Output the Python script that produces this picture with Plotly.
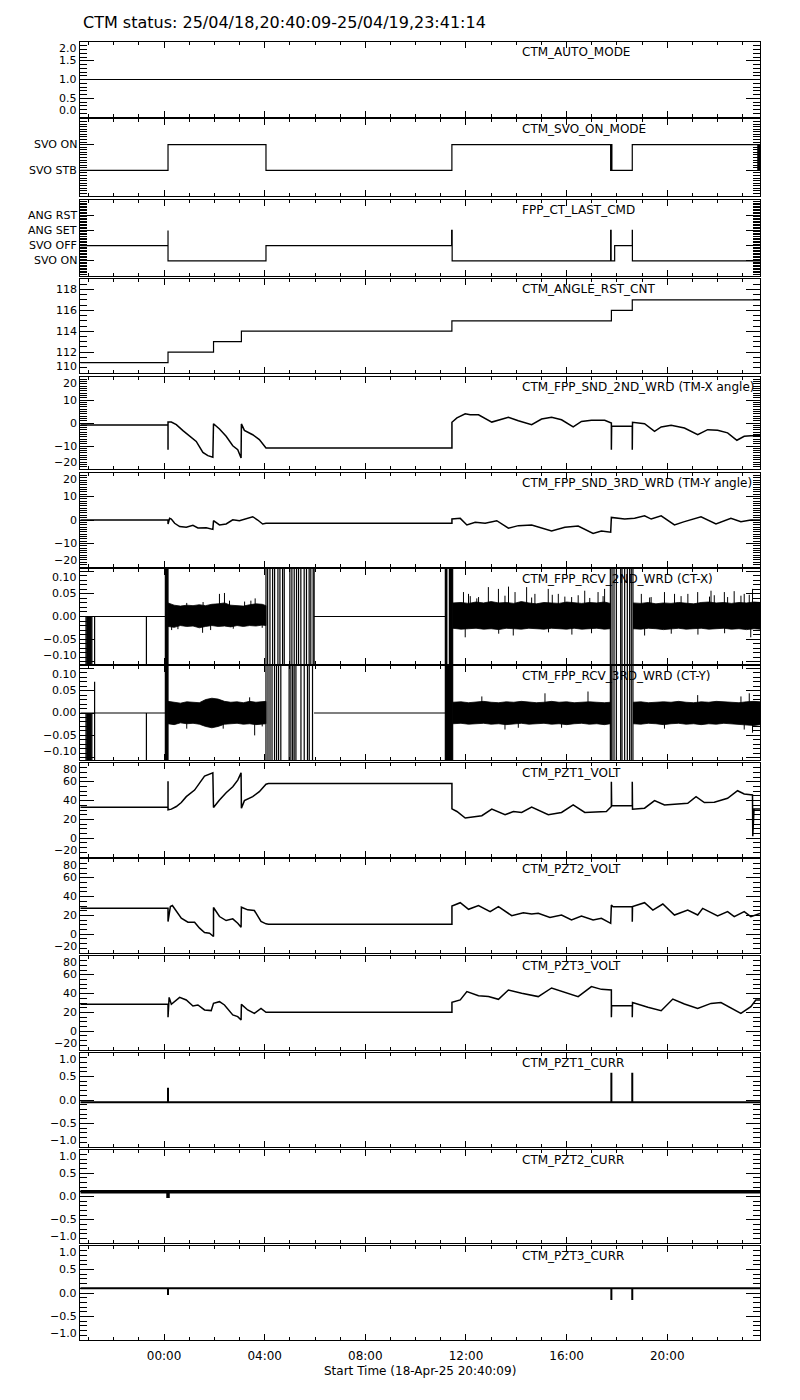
import plotly.graph_objects as go

# ---------------- time axis (hours relative to 2025-04-19 00:00) ----------------
T_START = -3.33083   # 25/04/18 20:40:09
T_END = 23.68722     # 25/04/19 23:41:14
x_tickvals = [0, 4, 8, 12, 16, 20]
x_ticktext = ["00:00", "04:00", "08:00", "12:00", "16:00", "20:00"]

panel_labels = ["CTM_AUTO_MODE", "CTM_SVO_ON_MODE", "FPP_CT_LAST_CMD", "CTM_ANGLE_RST_CNT",
                "CTM_FPP_SND_2ND_WRD (TM-X angle)", "CTM_FPP_SND_3RD_WRD (TM-Y angle)",
                "CTM_FPP_RCV_2ND_WRD (CT-X)", "CTM_FPP_RCV_3RD_WRD (CT-Y)",
                "CTM_PZT1_VOLT", "CTM_PZT2_VOLT", "CTM_PZT3_VOLT",
                "CTM_PZT1_CURR", "CTM_PZT2_CURR", "CTM_PZT3_CURR"]

svo_on_ticktext = ["SVO STB", "SVO ON"]
last_cmd_ticktext = ["SVO ON", "SVO OFF", "ANG SET", "ANG RST"]

# ---------------- data ----------------
auto_t = [T_START, T_END]
auto_v = [1, 1]

svo_t = [T_START, 0.156, 4.05, 11.44, 17.75, 17.78, 17.80, 18.61, 23.60, 23.62, 23.64, T_END]
svo_v = [0, 1, 0, 1, 0, 1, 0, 1, 0, 1, 0, 1]

cmd_t = [T_START, 0.156, 0.156, 4.05, 11.43, 11.45, 17.75, 17.77, 17.91, 18.61, 18.615, T_END]
cmd_v = [1, 2, 0, 1, 2, 0, 2, 0, 1, 2, 0, 0]

rst_t = [T_START, 0.156, 1.965, 3.073, 11.44, 17.78, 18.61, T_END]
rst_v = [111, 112, 113, 114, 115, 116, 117, 117]

tmx_t = [T_START, 0.156, 0.156, 0.156, 0.288, 0.486, 0.750, 1.014, 1.278, 1.542, 1.740, 1.938,
         1.964, 2.202, 2.466, 2.730, 2.928, 3.060, 3.073, 3.192, 3.522, 3.786, 4.050, 11.442,
         11.442, 11.640, 11.970, 12.168, 12.498, 13.026, 13.290, 13.686, 14.082, 14.610, 15.006,
         15.403, 15.799, 16.261, 16.591, 16.987, 17.515, 17.779, 17.779, 17.790, 18.610, 18.610,
         18.620, 19.099, 19.495, 19.759, 20.155, 20.683, 21.211, 21.607, 22.003, 22.399, 22.769,
         23.059, 23.323, T_END]
tmx_v = [-0.9, -0.9, -11.6, 0.4, 0.4, -0.7, -3.3, -5.5, -8.0, -12.8, -14.2, -14.9,
         -0.3, -2.6, -5.8, -9.9, -11.6, -15.2, -0.4, -3.2, -5.1, -7.2, -10.9, -10.9,
         0.3, 2.2, 4.0, 3.6, 3.6, 0.4, 1.2, 2.5, 1.0, -0.7, 1.7,
         2.5, 1.4, -1.7, 0.7, 1.2, 1.2, 0.0, -11.6, -1.4, -1.4, -11.6,
         0.3, -0.3, -3.6, -1.7, -1.0, -2.2, -5.1, -2.9, -3.2, -4.3, -7.5,
         -5.8, -5.5, -5.5]

tmy_t = [T_START, 0.156, 0.156, 0.220, 0.288, 0.420, 0.618, 0.882, 1.146, 1.344, 1.674, 1.938,
         1.964, 2.202, 2.466, 2.730, 2.994, 3.258, 3.522, 3.720, 3.918, 4.050, 11.442,
         11.442, 11.772, 12.036, 12.366, 12.762, 13.224, 13.686, 14.082, 14.610, 15.403, 15.931,
         16.459, 17.053, 17.383, 17.752, 17.779, 18.307, 18.703, 19.099, 19.363, 19.759, 20.287,
         20.683, 21.343, 21.937, 22.531, 22.927, 23.323, T_END]
tmy_v = [0.0, 0.0, -1.7, 0.7, 0.4, -1.4, -2.8, -3.1, -2.3, -3.4, -3.3, -4.0,
         -0.3, -2.1, -1.7, 0.1, -0.3, 0.7, 1.4, 0.0, -1.7, -1.4, -1.4,
         0.4, 0.7, -2.1, -1.0, -1.4, -0.3, -3.5, -2.4, -2.1, -4.7, -3.1,
         -2.6, -5.7, -4.7, -5.2, 1.1, 0.4, 0.7, 1.8, 0.4, 1.8, -2.1,
         -0.7, 1.4, -1.7, 0.7, -0.7, 0.0, 0.0]

# CT-X / CT-Y : quiet segments at zero, noise-band envelopes, spikes, full-swing lines
rcv_quiet = [(T_START, 0.05), (5.96, 11.18)]

ctx_band_t = [[0.156, 0.40, 0.65, 0.90, 1.15, 1.40, 1.65, 1.90, 2.15, 2.40, 2.65, 2.90, 3.15, 3.40, 3.65, 3.90, 4.05],
              [11.47, 11.80, 12.10, 12.40, 12.70, 13.00, 13.30, 13.60, 13.90, 14.20, 14.50, 14.80, 15.10,
               15.40, 15.70, 16.00, 16.30, 16.60, 16.90, 17.20, 17.50, 17.74],
              [18.64, 18.95, 19.25, 19.55, 19.85, 20.15, 20.45, 20.75, 21.05, 21.35, 21.65, 21.95, 22.25,
               22.55, 22.85, 23.15, 23.45, T_END]]
ctx_band_hi = [[0.030, 0.025, 0.023, 0.025, 0.024, 0.026, 0.024, 0.027, 0.028, 0.030, 0.025, 0.024, 0.023, 0.026, 0.028, 0.027, 0.024],
               [0.030, 0.031, 0.029, 0.032, 0.030, 0.033, 0.030, 0.031, 0.029, 0.033, 0.030, 0.028, 0.031,
                0.030, 0.029, 0.032, 0.030, 0.029, 0.031, 0.030, 0.032, 0.029],
               [0.030, 0.029, 0.031, 0.028, 0.030, 0.029, 0.031, 0.030, 0.028, 0.031, 0.032, 0.030, 0.031,
                0.029, 0.031, 0.030, 0.032, 0.031]]
ctx_band_lo = [[-0.022, -0.024, -0.020, -0.022, -0.021, -0.025, -0.022, -0.020, -0.022, -0.021, -0.023, -0.020, -0.022, -0.020, -0.021, -0.019, -0.020],
               [-0.026, -0.028, -0.027, -0.026, -0.028, -0.027, -0.029, -0.026, -0.027, -0.028, -0.026, -0.027, -0.028,
                -0.026, -0.027, -0.028, -0.026, -0.028, -0.027, -0.026, -0.028, -0.027],
               [-0.027, -0.028, -0.026, -0.027, -0.029, -0.027, -0.026, -0.028, -0.027, -0.026, -0.028, -0.027, -0.026,
                -0.028, -0.027, -0.029, -0.027, -0.028]]
ctx_spike_t = [0.30, 0.55, 0.90, 1.53, 1.55, 1.85, 2.20, 2.40, 2.60, 2.75, 3.20, 3.45, 3.62, 3.90,
               11.90, 12.10, 12.50, 12.89, 13.29, 13.69, 13.95, 14.41, 14.74, 15.27, 15.67, 16.20, 16.72, 17.25, 17.51,
               12.17, 12.43, 13.55, 14.61, 15.43, 15.93, 16.46, 16.92, 17.45,
               11.97, 13.30, 13.88, 15.28, 16.21, 16.99,
               18.97, 19.36, 19.89, 20.29, 20.82, 21.21, 21.74, 22.27, 22.66, 23.06, 23.39,
               19.30, 20.55, 21.68, 21.87, 22.40, 22.93, 23.26,
               19.10, 20.16, 21.22, 22.28, 23.32]
ctx_spike_v = [-0.030, -0.028, 0.030, -0.036, 0.032, -0.030, 0.050, 0.052, 0.035, -0.027, 0.033, 0.035, 0.040, -0.025,
               0.054, 0.050, 0.043, 0.065, 0.061, 0.066, 0.054, 0.065, 0.050, 0.061, 0.050, 0.043, 0.057, 0.054, 0.061,
               0.045, 0.040, 0.046, 0.042, 0.048, 0.044, 0.047, 0.041, 0.045,
               -0.046, -0.038, -0.042, -0.035, -0.040, -0.037,
               0.050, 0.043, 0.054, 0.050, 0.050, 0.054, 0.057, 0.054, 0.056, 0.050, 0.061,
               0.042, 0.045, 0.044, 0.047, 0.043, 0.046, 0.048,
               -0.042, -0.038, -0.040, -0.037, -0.046]
ctx_line_t = [-3.105, -3.07, -3.04, -3.00, -2.97, -2.93, -2.90, -2.87, -2.762, -0.703,
              0.05, 0.07, 0.09, 0.11, 0.13, 0.156,
              4.050, 4.116, 4.208, 4.314, 4.393, 4.525, 4.604, 4.710, 4.776, 5.000, 5.080, 5.172, 5.264,
              5.344, 5.436, 5.568, 5.660, 5.766, 5.832, 5.925, 5.964,
              11.18, 11.20, 11.22, 11.24, 11.34, 11.36, 11.38, 11.40, 11.42, 11.44, 11.47,
              17.739, 17.805, 17.884, 17.977, 18.149, 18.202, 18.307, 18.413, 18.505, 18.571, 18.637]
ctx_line_lo = [-0.12] * 10 + [-0.12] * 6 + [-0.12] * 21 + [-0.12] * 11 + [-0.12] * 11
ctx_line_hi = [0.0] * 10 + [0.12] * 6 + [0.12] * 21 + [0.12] * 11 + [0.12] * 11

cty_band_t = ctx_band_t
cty_band_hi = [[0.026, 0.024, 0.022, 0.025, 0.024, 0.023, 0.030, 0.033, 0.031, 0.026, 0.024, 0.025, 0.023, 0.026, 0.024, 0.025, 0.026],
               [0.024, 0.025, 0.023, 0.024, 0.026, 0.024, 0.023, 0.025, 0.024, 0.026, 0.025, 0.023, 0.024,
                0.026, 0.024, 0.025, 0.023, 0.024, 0.025, 0.024, 0.023, 0.024],
               [0.024, 0.025, 0.023, 0.024, 0.025, 0.024, 0.026, 0.024, 0.023, 0.025, 0.024, 0.026, 0.025,
                0.024, 0.023, 0.025, 0.026, 0.025]]
cty_band_lo = [[-0.024, -0.026, -0.022, -0.024, -0.023, -0.025, -0.030, -0.033, -0.030, -0.025, -0.024, -0.023, -0.025, -0.024, -0.026, -0.025, -0.024],
               [-0.024, -0.023, -0.025, -0.024, -0.023, -0.025, -0.024, -0.026, -0.024, -0.023, -0.025, -0.024, -0.023,
                -0.025, -0.024, -0.026, -0.024, -0.023, -0.025, -0.024, -0.026, -0.024],
               [-0.024, -0.025, -0.023, -0.024, -0.026, -0.024, -0.023, -0.025, -0.024, -0.026, -0.024, -0.025, -0.023,
                -0.024, -0.026, -0.027, -0.028, -0.026]]
cty_spike_t = [0.90, 1.95, 2.35, 3.40, 3.60, 3.90,
               12.63, 15.14, 16.85, 13.55, 14.08, 15.80,
               21.21, 22.93, 23.26, 23.39, 23.06, 19.89]
cty_spike_v = [-0.035, 0.030, -0.035, 0.035, -0.050, -0.030,
               0.037, 0.044, 0.048, -0.037, -0.033, -0.033,
               0.040, 0.037, 0.044, -0.044, -0.037, -0.035]
cty_line_t = [-3.105, -3.07, -3.04, -3.00, -2.97, -2.93, -2.90, -2.87, -2.762, -0.703,
              0.05, 0.07, 0.09, 0.11, 0.13, 0.156,
              4.050, 4.13, 4.21, 4.29, 4.39, 4.47, 4.55, 4.64, 4.97, 5.04, 5.11, 5.17, 5.24,
              5.44, 5.57, 5.70, 5.77, 5.90,
              11.18, 11.20, 11.22, 11.24, 11.26, 11.28, 11.30, 11.32, 11.34, 11.36, 11.38, 11.40, 11.42, 11.44, 11.47,
              17.739, 17.77, 17.805, 17.884, 17.977, 18.149, 18.202, 18.307, 18.413, 18.505, 18.571, 18.637]
cty_line_lo = [-0.12] * 10 + [-0.12] * 6 + [-0.12] * 18 + [-0.12] * 15 + [-0.12] * 12
cty_line_hi = [0.0] * 8 + [0.07, 0.0] + [0.12] * 6 + [0.12] * 18 + [0.12] * 15 + [0.12] * 12

pzt1v_t = [T_START, 0.156, 0.156, 0.156, 0.288, 0.486, 0.684, 0.882, 1.212, 1.410, 1.608, 1.938,
           1.964, 2.202, 2.466, 2.730, 2.928, 3.060, 3.073, 3.192, 3.522, 3.786, 4.050, 4.150,
           11.442, 11.442, 11.640, 11.970, 12.366, 12.630, 13.026, 13.554, 13.884, 14.214, 14.610,
           15.271, 15.799, 16.261, 16.723, 17.251, 17.581, 17.779, 17.779, 17.790, 18.610, 18.610,
           18.620, 19.099, 19.495, 19.891, 20.419, 20.815, 21.145, 21.475, 21.871, 22.399, 22.795,
           23.059, 23.389, 23.400, 23.450, T_END]
pzt1v_v = [33.0, 33.0, 60.7, 30.2, 30.9, 33.7, 37.9, 44.2, 51.2, 58.2, 66.0, 69.5,
           32.6, 40.7, 48.4, 54.7, 61.8, 69.5, 31.9, 40.0, 44.2, 49.5, 57.5, 58.2,
           58.2, 31.2, 28.4, 21.4, 22.5, 23.9, 30.9, 24.9, 28.4, 27.4, 33.0,
           24.9, 27.4, 35.4, 27.4, 28.4, 28.4, 33.7, 60.0, 34.4, 34.4, 60.0,
           30.9, 31.9, 40.0, 35.4, 36.1, 37.2, 44.2, 37.9, 38.2, 42.5, 50.5,
           47.0, 46.0, 2.0, 31.0, 31.0]

pzt2v_t = [T_START, 0.156, 0.156, 0.200, 0.250, 0.330, 0.486, 0.684, 0.948, 1.212, 1.410, 1.608,
           1.806, 1.964, 1.964, 2.202, 2.466, 2.730, 2.928, 3.060, 3.073, 3.324, 3.588, 3.852,
           4.050, 4.150, 11.442, 11.442, 11.772, 12.102, 12.498, 12.960, 13.290, 13.818, 14.280,
           14.610, 14.874, 15.337, 15.799, 16.195, 16.591, 17.053, 17.383, 17.752, 17.779, 17.845,
           18.610, 18.610, 18.620, 19.099, 19.429, 19.825, 20.287, 20.815, 21.211, 21.409, 22.003,
           22.399, 22.663, 23.059, 23.323, T_END]
pzt2v_v = [27.7, 27.7, 13.5, 24.1, 29.4, 30.5, 24.1, 17.0, 12.8, 12.8, 6.4, 1.8,
           1.1, -2.5, 28.4, 18.8, 14.5, 16.3, 11.7, 7.4, 28.7, 25.9, 25.2, 13.5,
           11.0, 10.6, 10.6, 30.0, 33.5, 26.5, 30.4, 24.0, 29.3, 19.7, 22.9,
           21.5, 22.2, 17.9, 20.4, 15.1, 19.4, 15.1, 16.9, 11.6, 31.1, 29.3,
           29.3, 13.3, 29.3, 33.5, 25.7, 32.1, 20.4, 25.7, 20.4, 27.5, 19.4,
           24.0, 18.6, 24.0, 18.6, 22.0]

pzt3v_t = [T_START, 0.156, 0.156, 0.200, 0.288, 0.618, 0.882, 1.146, 1.344, 1.608, 1.872, 1.964,
           2.202, 2.400, 2.730, 2.928, 3.060, 3.073, 3.324, 3.588, 3.852, 4.050, 11.442,
           11.442, 11.772, 12.036, 12.498, 12.894, 13.290, 13.686, 14.214, 14.874, 15.403, 15.931,
           16.459, 16.987, 17.383, 17.779, 17.779, 17.790, 18.610, 18.610, 18.620, 19.231, 19.759,
           20.221, 20.683, 21.211, 21.739, 22.135, 22.531, 22.927, 23.323, 23.521, T_END]
pzt3v_v = [28.6, 28.6, 14.8, 36.0, 28.6, 36.0, 33.2, 26.8, 27.9, 22.6, 21.9, 29.7,
           31.4, 27.9, 17.3, 15.5, 11.9, 28.6, 22.6, 19.0, 24.3, 20.1, 20.1,
           30.7, 33.3, 42.1, 37.8, 36.8, 33.9, 43.8, 40.3, 36.8, 46.0, 41.0,
           36.8, 47.4, 44.5, 43.8, 14.8, 27.2, 27.2, 14.8, 30.4, 25.4, 21.8,
           34.2, 28.9, 24.3, 29.6, 30.4, 24.3, 19.0, 26.1, 33.2, 33.2]

pzt1c_t = [T_START, 0.156, 0.156, 0.156, 17.779, 17.779, 17.779, 18.61, 18.61, 18.61, T_END]
pzt1c_v = [-0.05, -0.05, 0.26, -0.05, -0.05, 0.58, -0.05, -0.05, 0.58, -0.05, -0.05]
pzt2c_t = [T_START, 0.156, 0.156, 0.156, T_END]
pzt2c_v = [0.10, 0.10, -0.03, 0.10, 0.10]
pzt3c_t = [T_START, 0.156, 0.156, 0.156, 17.779, 17.779, 17.779, 18.61, 18.61, 18.61, T_END]
pzt3c_v = [0.10, 0.10, -0.04, 0.10, 0.10, -0.15, 0.10, 0.10, -0.15, 0.10, 0.10]

# ---------------- layout geometry (page pixels; page body has an 8px margin) ----------------
OFF = 8
W, H = 800 - OFF, 1400 - OFF
X0, X1 = 80.3, 760.0
PANELS_PX = [(42, 117), (119, 196), (200, 276), (279, 373), (377, 469), (473, 567),
             (569, 664), (666, 760), (763, 857), (859, 953), (956, 1050), (1053, 1147),
             (1150, 1243), (1246, 1340)]


def fx(px):
    return (px - OFF) / W


def fy(py):
    return 1 - (py - OFF) / H


FONT = "DejaVu Sans"
TICKFONT = 11
yspec = [
    dict(range=[0, 2], tickvals=[0, 0.5, 1, 1.5, 2], fmt="{:.1f}", minor=0.1),
    dict(range=[-1, 2], tickvals=[0, 1], text=svo_on_ticktext, minor=0.1),
    dict(range=[-1, 4], tickvals=[0, 1, 2, 3], text=last_cmd_ticktext, minor=0.1),
    dict(range=[110, 119], tickvals=[110, 112, 114, 116, 118], fmt="{:d}", minor=0.5),
    dict(range=[-20, 20], tickvals=[-20, -10, 0, 10, 20], fmt="{:d}", minor=1),
    dict(range=[-20, 20], tickvals=[-20, -10, 0, 10, 20], fmt="{:d}", minor=1),
    dict(range=[-0.105, 0.105], tickvals=[-0.1, -0.05, 0, 0.05, 0.1], fmt="{:.2f}", minor=0.01),
    dict(range=[-0.105, 0.105], tickvals=[-0.1, -0.05, 0, 0.05, 0.1], fmt="{:.2f}", minor=0.01),
    dict(range=[-20, 80], tickvals=[-20, 0, 20, 40, 60, 80], fmt="{:d}", minor=5),
    dict(range=[-20, 80], tickvals=[-20, 0, 20, 40, 60, 80], fmt="{:d}", minor=5),
    dict(range=[-20, 80], tickvals=[-20, 0, 20, 40, 60, 80], fmt="{:d}", minor=5),
    dict(range=[-1, 1], tickvals=[-1, -0.5, 0, 0.5, 1], fmt="{:.1f}", minor=0.1),
    dict(range=[-1, 1], tickvals=[-1, -0.5, 0, 0.5, 1], fmt="{:.1f}", minor=0.1),
    dict(range=[-1, 1], tickvals=[-1, -0.5, 0, 0.5, 1], fmt="{:.1f}", minor=0.1),
]

fig = go.Figure()
layout = dict(width=W, height=H, margin=dict(l=0, r=0, t=0, b=0, autoexpand=False),
              paper_bgcolor="white", plot_bgcolor="white", showlegend=False,
              font=dict(family=FONT, size=12, color="black"))


def sfx(n):
    return "" if n == 1 else str(n)


def line(n, x, y, width=1.0, shape="linear"):
    s = sfx(n)
    fig.add_trace(go.Scatter(x=x, y=y, mode="lines", xaxis="x" + s, yaxis="y" + s,
                             line=dict(color="black", width=width, shape=shape),
                             hoverinfo="skip"))


def fill_poly(n, x, y):
    s = sfx(n)
    fig.add_trace(go.Scatter(x=x, y=y, mode="lines", fill="toself", fillcolor="black",
                             xaxis="x" + s, yaxis="y" + s,
                             line=dict(color="black", width=0.8), hoverinfo="skip"))


ann = []
for i in range(14):
    n = i + 1
    s = sfx(n)
    top, bot = PANELS_PX[i]
    spec = yspec[i]
    lo, hi = spec["range"]
    xa = dict(domain=[fx(X0), fx(X1)], anchor="y" + s, range=[T_START, T_END],
              tickmode="array", tickvals=x_tickvals, ticktext=x_ticktext,
              showticklabels=(n == 14), ticks="inside", ticklen=6, tickwidth=1,
              tickcolor="black", showline=True, linecolor="black", linewidth=1,
              mirror="allticks", showgrid=False, zeroline=False, automargin=False,
              ticklabelstandoff=5,
              tickfont=dict(family=FONT, size=12),
              minor=dict(ticks="inside", ticklen=3, tickwidth=1, tickcolor="black",
                         tickmode="linear", tick0=0, dtick=1, showgrid=False))
    if n > 1:
        xa["matches"] = "x"
    ya = dict(domain=[fy(bot), fy(top)], anchor="x" + s, range=spec["range"],
              tickmode="array", tickvals=spec["tickvals"], showticklabels=False,
              ticks="inside", ticklen=14, automargin=False,
              tickwidth=1, tickcolor="black", showline=True, linecolor="black", linewidth=1,
              mirror="allticks", showgrid=False, zeroline=False,
              minor=dict(ticks="inside", ticklen=7, tickwidth=1, tickcolor="black",
                         tickmode="linear", tick0=0, dtick=spec["minor"], showgrid=False))
    layout["xaxis" + s] = xa
    layout["yaxis" + s] = ya

    # y tick labels (kept inside their own panel, as in the original plot)
    for k, v in enumerate(spec["tickvals"]):
        txt = spec["text"][k] if "text" in spec else spec["fmt"].format(v)
        txt = txt.replace("-", "\u2212")
        edge = 0.06 * (hi - lo)
        if hi - v < edge:
            yanchor, shift = "top", 1
        elif v - lo < edge:
            yanchor, shift = "bottom", -1
        else:
            yanchor, shift = "middle", 0
        ann.append(dict(text=txt, xref="paper", yref="y" + s, x=fx(77.5), y=v,
                        xanchor="right", yanchor=yanchor, yshift=shift, showarrow=False,
                        borderpad=0,
                        font=dict(family=FONT, size=TICKFONT, color="black")))

# ---- traces ----
line(1, auto_t, auto_v, 1.2)
line(2, svo_t, svo_v, 1.2, "hv")
line(3, cmd_t, cmd_v, 1.2, "hv")
line(4, rst_t, rst_v, 1.2, "hv")
line(5, tmx_t, tmx_v, 1.5)
line(6, tmy_t, tmy_v, 1.5)


def rcv_panel(n, band_t, band_hi, band_lo, spike_t, spike_v, lt, llo, lhi):
    qx, qy = [], []
    for a, b in rcv_quiet:
        qx += [a, b, None]
        qy += [0, 0, None]
    line(n, qx, qy, 1.2)
    for bt, bh, bl in zip(band_t, band_hi, band_lo):
        fill_poly(n, bt + bt[::-1], bh + bl[::-1])
    sx, sy = [], []
    for t, v in zip(spike_t, spike_v):
        sx += [t, t, None]
        sy += [0, v, None]
    line(n, sx, sy, 1.0)
    vx, vy = [], []
    for t, a, b in zip(lt, llo, lhi):
        vx += [t, t, None]
        vy += [a, b, None]
    line(n, vx, vy, 1.2)


rcv_panel(7, ctx_band_t, ctx_band_hi, ctx_band_lo, ctx_spike_t, ctx_spike_v,
          ctx_line_t, ctx_line_lo, ctx_line_hi)
rcv_panel(8, cty_band_t, cty_band_hi, cty_band_lo, cty_spike_t, cty_spike_v,
          cty_line_t, cty_line_lo, cty_line_hi)

line(9, pzt1v_t, pzt1v_v, 1.5)
line(10, pzt2v_t, pzt2v_v, 1.5)
line(11, pzt3v_t, pzt3v_v, 1.5)
line(12, pzt1c_t, pzt1c_v, 2.0)
line(13, pzt2c_t, pzt2c_v, 3.5)
line(14, pzt3c_t, pzt3c_v, 2.0)

# ---- panel names, title, x title ----
for i, lab in enumerate(panel_labels):
    top, _ = PANELS_PX[i]
    ann.append(dict(text=lab, xref="paper", yref="paper", x=fx(520), y=fy(top + 10),
                    xanchor="left", yanchor="middle", showarrow=False,
                    font=dict(family=FONT, size=12, color="black")))
ann.append(dict(text="CTM status: 25/04/18,20:40:09-25/04/19,23:41:14", xref="paper", yref="paper",
                x=fx(81), y=fy(22), xanchor="left", yanchor="middle", showarrow=False,
                font=dict(family=FONT, size=16, color="black")))
ann.append(dict(text="Start Time (18-Apr-25 20:40:09)", xref="paper", yref="paper",
                x=fx((X0 + X1) / 2), y=fy(1371), xanchor="center", yanchor="middle",
                showarrow=False, font=dict(family=FONT, size=12, color="black")))
layout["annotations"] = ann

fig.update_layout(**layout)
fig.write_html("out.html")
